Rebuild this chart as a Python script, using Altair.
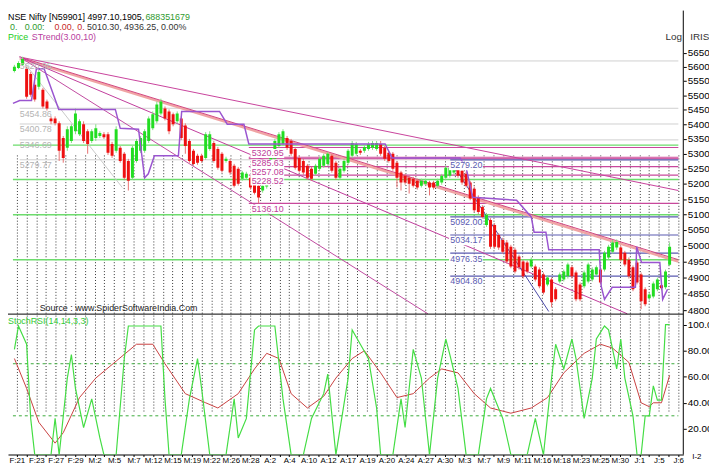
import json
import altair as alt
import pandas as pd

FONT = "Liberation Sans"

# ---------------- data ----------------
opens = [5585,5596,5607,5593,5575,5537,5530,5519,5478,5420,5420,5403,5353,5320,5343,5376,5366,5400,5376,5343,
         5353,5360,5366,5366,5333,5310,5320,5300,5276,5220,5276,5310,5310,5343,5386,5410,5437,5454,5444,5434,
         5410,5420,5396,5343,5310,5293,5293,5286,5316,5336,5316,5300,5276,5276,5260,5250,5217,5220,5220,5210,
         5194,5178,5191,5237,5283,5326,5333,5353,5343,5316,5286,5276,5260,5250,5233,5250,5260,5266,5293,5270,
         5220,5243,5270,5293,5300,5310,5310,5316,5320,5316,5333,5320,5303,5300,5270,5237,5227,5220,5217,5210,
         5194,5200,5204,5204,5194,5204,5220,5227,5237,5250,5243,5233,5204,5184,5155,5124,5066,5082,5066,5034,
         5018,5010,4997,4987,4966,4950,4947,4935,4935,4925,4910,4879,4894,4864,4888,4894,4904,4932,4916,4879,
         4873,4888,4894,4910,4925,4925,4963,4981,4994,4994,4978,4956,4932,4947,4910,4864,4836,4842,4864,4876,
         4870,4940]
highs = [5607,5620,5636,5600,5582,5547,5589,5526,5485,5427,5427,5410,5360,5393,5400,5454,5417,5410,5383,5383,
         5400,5376,5373,5373,5340,5393,5326,5306,5283,5326,5350,5360,5383,5427,5444,5478,5488,5461,5451,5440,
         5444,5427,5403,5350,5316,5300,5300,5373,5376,5343,5323,5306,5290,5283,5266,5256,5243,5240,5227,5217,
         5200,5200,5250,5300,5350,5373,5383,5360,5350,5323,5293,5283,5266,5256,5266,5290,5300,5306,5300,5276,
         5256,5283,5316,5343,5340,5316,5330,5340,5343,5343,5343,5326,5310,5306,5276,5243,5233,5227,5223,5217,
         5217,5217,5210,5210,5217,5233,5260,5266,5260,5256,5250,5240,5210,5191,5162,5130,5105,5088,5072,5040,
         5025,5018,5003,4994,4972,4956,4953,4963,4941,4932,4916,4907,4900,4870,4916,4925,4947,4938,4922,4885,
         4922,4947,4932,4938,4932,4984,5003,5018,5020,5000,4984,4963,4938,4953,4916,4870,4854,4888,4900,4882,
         4925,5010]
lows = [5580,5592,5603,5488,5495,5478,5520,5454,5447,5400,5396,5276,5270,5310,5336,5366,5360,5336,5300,5336,
        5343,5353,5350,5296,5286,5303,5270,5213,5178,5213,5270,5303,5303,5336,5380,5403,5430,5413,5366,5393,
        5403,5346,5300,5270,5260,5263,5270,5280,5310,5270,5247,5237,5270,5230,5188,5194,5210,5213,5181,5165,
        5136,5171,5184,5230,5276,5320,5326,5313,5293,5247,5237,5230,5213,5210,5227,5243,5253,5260,5237,5213,
        5213,5237,5263,5286,5293,5296,5303,5310,5313,5310,5293,5276,5270,5243,5188,5178,5197,5168,5188,5181,
        5188,5194,5162,5181,5188,5197,5213,5220,5230,5220,5197,5188,5146,5108,5101,5086,5060,4990,4990,4987,
        4975,4944,4929,4913,4925,4897,4913,4929,4888,4867,4848,4873,4809,4827,4882,4888,4897,4897,4827,4827,
        4867,4882,4888,4904,4879,4919,4956,4975,4987,4950,4935,4897,4858,4879,4803,4812,4830,4836,4858,4861,
        4864,4936]
closes = [5600,5614,5628,5495,5502,5485,5582,5461,5454,5410,5403,5310,5286,5383,5393,5437,5410,5343,5333,5376,
          5386,5370,5356,5303,5293,5383,5276,5220,5210,5320,5343,5353,5376,5420,5434,5468,5478,5420,5376,5400,
          5437,5353,5326,5276,5266,5270,5276,5366,5366,5276,5253,5243,5283,5237,5194,5200,5237,5233,5188,5171,
          5155,5194,5243,5293,5343,5366,5376,5320,5300,5253,5243,5237,5220,5217,5260,5283,5293,5300,5243,5220,
          5250,5276,5310,5336,5333,5303,5323,5333,5336,5336,5300,5283,5276,5250,5220,5204,5204,5200,5194,5188,
          5210,5210,5188,5188,5210,5227,5253,5253,5250,5227,5204,5194,5152,5114,5108,5092,5098,4997,4997,4994,
          4981,4950,4935,4919,4932,4904,4919,4956,4894,4873,4854,4900,4824,4833,4910,4919,4941,4904,4833,4833,
          4916,4941,4925,4932,4885,4978,4997,5010,5012,4956,4941,4904,4864,4885,4827,4818,4848,4882,4894,4867,
          4919,4997]

date_labels = ["F:21", "F:23", "F:27", "F:29", "M:2", "M:5", "M:7", "M:12", "M:15", "M:19", "M:22", "M:26",
               "M:28", "A:2", "A:4", "A:10", "A:12", "A:17", "A:19", "A:20", "A:24", "A:27", "A:30", "M:3",
               "M:7", "M:9", "M:11", "M:16", "M:18", "M:23", "M:25", "M:30", "J:1", "J:5", "J:6"]

# STrend(3,10) stepped line: bar position, price
strend_bar = [-0.36, 1.3, 4.2, 5.4, 7.3, 10.9, 24.8, 26.0, 30.5, 32.0, 32.9, 34.4, 40.3, 41.1, 50.4, 52.3,
              56.4, 57.6, 91.1, 92.8, 109.5, 111.0, 112.6, 123.4, 127.0, 127.7, 130.6, 131.3, 143.7, 144.2,
              145.0, 146.9, 152.6, 152.9, 154.1, 158.6, 159.3, 160.5]
strend_val = [5472, 5482, 5482, 5593, 5593, 5451, 5451, 5386, 5383, 5220, 5233, 5293, 5293, 5444, 5444, 5400,
              5400, 5333, 5333, 5286, 5286, 5253, 5156, 5146, 5092, 5043, 5043, 4987, 4987, 4873,
              4833, 4870, 4870, 4997, 4947, 4947, 4833, 4864]

# StochRSI(14,14,3,3)
k_bar = [0,1,3,4,5,9,10,11,13,14,15,17,19,21,22,25,27,28,36,37,38,41,43,45,46,48,52,54,55,57,59,60,64,66,68,
         71,73,76,77,79,82,83,85,87,89,90,93,95,96,98,100,102,104,106,107,109,111,114,116,117,120,122,126,128,
         130,132,133,135,137,138,140,142,143,145,146,148,149,150,152,153,154,155,156,157,158,159,160,161]
k_val = [81,99,85,28,0,0,28,0,59,77,51,21,43,13,0,0,74,99,99,43,0,0,43,74,51,0,0,43,13,28,96,99,99,43,0,
         0,28,47,62,0,59,96,85,74,36,0,0,43,21,81,59,0,59,89,77,51,0,0,43,51,28,0,0,28,
         0,59,85,66,89,74,28,59,89,99,96,66,89,59,30,0,0,30,30,53,42,42,100,100]
d_bar = [0,3,6,10,12,16,20,25,30,34,37,42,47,50,55,59,62,65,68,72,76,79,83,86,90,94,98,102,105,109,113,117,
         122,127,131,135,140,144,147,151,154,156,157,159,161]
d_val = [74,51,25,9,17,44,59,72,85,85,70,47,40,36,47,66,78,74,47,36,45,59,74,80,63,44,47,59,66,63,47,36,
         32,36,44,63,78,85,82,71,40,37,40,40,61]

# horizontal levels
grey_levels = [5620.95, 5454.86, 5400.78, 5346.69, 5279.77]
green_levels = [5329, 5214, 5099, 4956]
pink_levels = [5320.95, 5285.63, 5257.08, 5228.52, 5136.10]
blue_levels = [5279.20, 5092.00, 5034.17, 4976.35, 4904.80]

# trend lines: name, start bar, start price, end bar, end price
trend_names = ["fan1", "fan2s", "fan2", "fan3", "fan4", "grey", "blue"]
trend_x0 = [1.3, 1.3, 1.3, 1.3, 1.3, 1.3, 107.9]
trend_p0 = [5635, 5630, 5635, 5635, 5635, 5635, 5260]
trend_x1 = [163.15, 163.15, 163.15, 150.6, 101.6, 26.5, 131.3]
trend_p1 = [5178, 4950, 4956, 4789, 4789, 5188, 4796]

# ---------------- build ----------------
W, H = 683, 449
X0, X1 = -0.36, 163.15

candles = pd.DataFrame({"i": range(len(opens)), "o": opens, "h": highs, "l": lows, "c": closes})
candles["dir"] = ["up" if c >= o else "down" for o, c in zip(opens, closes)]

xs = alt.Scale(domain=[X0, X1], nice=False, zero=False)
ps = alt.Scale(type="log", domain=[4800, 5650], range=[303, 42.7], nice=False)
oscs = alt.Scale(domain=[20, 100], range=[423, 317.7], nice=False, zero=False)

step = 2.39
grid_vals = [round(0.6 + step * m, 3) for m in range(len(date_labels) * 2 - 1)]
lab_arr = []
for k, lab in enumerate(date_labels):
    lab_arr.append(lab)
    if k < len(date_labels) - 1:
        lab_arr.append("")
label_expr = json.dumps(lab_arr) + "[round((datum.value - 0.6) / %s)]" % step

xaxis = alt.Axis(values=grid_vals, grid=True, gridDash=[1, 2], gridColor="#000000", gridOpacity=0.8,
                 ticks=True, tickSize=2, tickColor="#000000", domain=True, domainColor="#000000",
                 labelExpr=label_expr, labelFont=FONT, labelFontSize=8, labelColor="#000000",
                 labelPadding=0, labelOverlap=False, labelFlush=False, labelAngle=0, labelBound=False,
                 title=None)
pax = alt.Axis(orient="right", values=list(range(4800, 5651, 50)), format=".1f", grid=False, domain=False,
               ticks=True, tickSize=3, tickColor="#000000", labelFont=FONT, labelFontSize=10,
               labelColor="#000000", labelPadding=1, labelOverlap=False, labelFlush=False, title=None)
oax = alt.Axis(orient="right", values=[20, 40, 60, 80, 100], format=".2f", grid=False, domain=False,
               ticks=True, tickSize=3, tickColor="#000000", labelFont=FONT, labelFontSize=10,
               labelColor="#000000", labelPadding=1, labelOverlap=False, labelFlush=False, title=None)


def X(field):
    return alt.X(field, scale=xs, axis=xaxis, title=None)


def YP(field):
    return alt.Y(field, scale=ps, axis=pax, title=None)


def YO(field):
    return alt.Y(field, scale=oscs, axis=oax, title=None)


def level_rules(levels, start, color, width):
    df = pd.DataFrame({"p": levels, "x1": [start] * len(levels), "x2": [X1] * len(levels)})
    return alt.Chart(df).mark_rule(color=color, strokeWidth=width, clip=True).encode(
        x=X("x1:Q"), x2="x2:Q", y=YP("p:Q"))


def level_labels(levels, start, color, box):
    df = pd.DataFrame({"p": levels, "x": [start] * len(levels),
                       "xb": [start - 0.3] * len(levels), "xe": [start + 8.0] * len(levels),
                       "t": ["%.2f" % v for v in levels]})
    layers = []
    if box:
        layers.append(alt.Chart(df).mark_rect(color="white", yOffset=1.5, y2Offset=10.5).encode(
            x=X("xb:Q"), x2="xe:Q", y=YP("p:Q"), y2="p:Q"))
    layers.append(alt.Chart(df).mark_text(align="left", baseline="middle", dy=5.5, font=FONT, fontSize=9,
                                          color=color).encode(x=X("x:Q"), y=YP("p:Q"), text="t:N"))
    return layers


grey_r = level_rules(grey_levels, 1.3, "#cfcfcf", 1)
green_r = level_rules(green_levels, X0, "#6ddc6d", 1.5)
pink_band = level_rules([pink_levels[1]], 57.6, "#eaa6cb", 3)
pink_r = level_rules(pink_levels, 57.6, "#c8489c", 1.2)
blue_r = level_rules(blue_levels, 107.1, "#5a5ab0", 1.2)

trend_colors = ["#c8429c", "#f0a4a4", "#d2447e", "#c03c9c", "#c04aa0", "#c8c8c8", "#4a4aa8"]
trend_widths = [1.0, 2.5, 1.0, 1.0, 1.0, 1.0, 1.0]
rows = []
for n, a, pa, b, pb, w in zip(trend_names, trend_x0, trend_p0, trend_x1, trend_p1, trend_widths):
    rows.append({"name": n, "x": a, "p": pa, "w": w})
    rows.append({"name": n, "x": b, "p": pb, "w": w})
trend_df = pd.DataFrame(rows)
trends = alt.Chart(trend_df).mark_line(clip=True).encode(
    x=X("x:Q"), y=YP("p:Q"), detail="name:N",
    color=alt.Color("name:N", scale=alt.Scale(domain=trend_names, range=trend_colors), legend=None),
    strokeWidth=alt.StrokeWidth("w:Q", scale=None))

wicks = alt.Chart(candles).mark_rule(clip=True, strokeWidth=1).encode(
    x=X("i:Q"), y=YP("l:Q"), y2="h:Q",
    color=alt.condition("datum.dir == 'up'", alt.value("#7ee27e"), alt.value("#e87070")))
bodies = alt.Chart(candles).mark_bar(size=3, clip=True).encode(
    x=X("i:Q"), y=YP("o:Q"), y2="c:Q",
    color=alt.condition("datum.dir == 'up'", alt.value("#22dd22"), alt.value("#ee1010")))

strend_df = pd.DataFrame({"x": strend_bar, "p": strend_val})
strend = alt.Chart(strend_df).mark_line(color="#9a55d0", strokeWidth=1.5, clip=True).encode(
    x=X("x:Q"), y=YP("p:Q"), order="x:Q")

price_group = alt.layer(grey_r, green_r, pink_band, pink_r, blue_r, trends, wicks, bodies, strend,
                        *level_labels(grey_levels, 1.3, "#b4b4b4", False),
                        *level_labels(pink_levels, 58.3, "#c0409a", True),
                        *level_labels(blue_levels, 107.1, "#5a5ab0", True))

# oscillator panel
guide_df = pd.DataFrame({"v": [70, 30], "x1": [X0, X0], "x2": [X1, X1]})
guides = alt.Chart(guide_df).mark_rule(color="#3aaa3a", strokeDash=[3, 3], strokeWidth=1, clip=True).encode(
    x=X("x1:Q"), x2="x2:Q", y=YO("v:Q"))
d_line = alt.Chart(pd.DataFrame({"x": d_bar, "v": d_val})).mark_line(
    color="#c84040", strokeWidth=1, clip=True).encode(x=X("x:Q"), y=YO("v:Q"))
k_line = alt.Chart(pd.DataFrame({"x": k_bar, "v": k_val})).mark_line(
    color="#44dd44", strokeWidth=1.2, clip=True).encode(x=X("x:Q"), y=YO("v:Q"))
osc_group = alt.layer(guides, d_line, k_line)

# frame and text annotations
dummy = pd.DataFrame({"k": [0]})


def txt(s, x, y, color="#000000", size=9, align="left"):
    return alt.Chart(dummy).mark_text(text=s, align=align, baseline="middle", font=FONT, fontSize=size,
                                      color=color).encode(x=alt.value(x), y=alt.value(y))


header_bg = alt.Chart(dummy).mark_rect(color="white").encode(
    x=alt.value(0), x2=alt.value(W), y=alt.value(0), y2=alt.value(25))
sep = alt.Chart(dummy).mark_rule(color="#000000", strokeWidth=1).encode(
    x=alt.value(0), x2=alt.value(W), y=alt.value(307))
right_axis = alt.Chart(dummy).mark_rule(color="#000000", strokeWidth=1).encode(
    x=alt.value(W), y=alt.value(0), y2=alt.value(H))

misc = alt.layer(
    header_bg, sep, right_axis,
    txt("NSE Nifty [N59901] 4997.10,1905,", 0, 7),
    txt("688351679", 139, 7, "#2e9a2e"),
    txt("0.", 2, 17, "#2e9a2e"),
    txt("0.00:", 17, 17, "#2e9a2e"),
    txt("0.00,", 47, 17, "#c82828"),
    txt("0.", 70, 17, "#c82828"),
    txt("5010.30, 4936.25, 0.00%", 80, 17, "#333333"),
    txt("Price", 0, 27, "#22cc22"),
    txt("STrend(3.00,10)", 24, 27, "#b8409e"),
    txt("Log", 665, 27, "#333333", 10),
    txt("IRIS", 690, 27, "#333333", 10),
    txt("Source : www.SpiderSoftwareIndia.Com", 32, 301, "#222222", 9),
    txt("StochRSI(14,14,3,3)", 0, 314, "#33cc33"),
    txt("I-2", 692, 452, "#000000", 8),
)

chart = alt.layer(price_group, osc_group, misc).resolve_scale(y="independent").properties(
    width=W, height=H,
    autosize=alt.AutoSizeParams(type="none"),
    padding={"left": 0, "top": 0, "right": 26, "bottom": 9},
    background="white",
).configure_view(stroke=None)

chart.save("out.html", embed_options={"renderer": "svg", "actions": False})
